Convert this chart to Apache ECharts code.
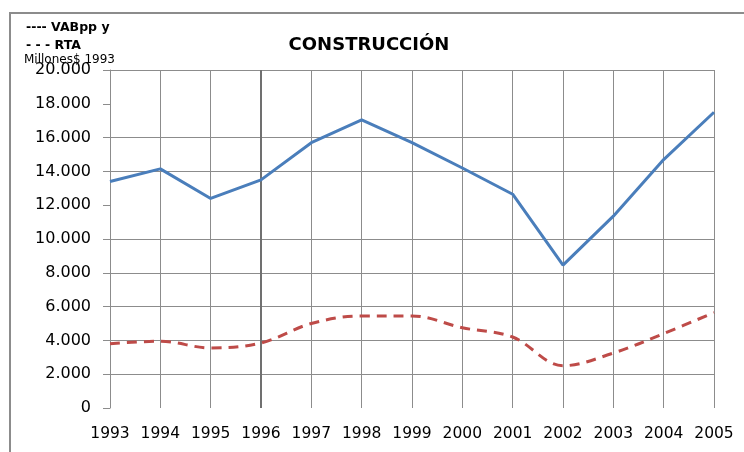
<!DOCTYPE html>
<html>
<head>
<meta charset="utf-8">
<script src="https://cdn.jsdelivr.net/npm/echarts@6/dist/echarts.min.js"></script>
<style>
  html, body { margin: 0; padding: 0; background: #fff; }
  #chart { width: 744px; height: 452px; }
</style>
</head>
<body>
<div id="chart"></div>
<script>
// años
const years = ['1993', '1994', '1995', '1996', '1997', '1998', '1999', '2000', '2001', '2002', '2003', '2004', '2005']
// VABpp y (millones $ 1993)
const vabValues = [13400, 14150, 12400, 13500, 15700, 17050, 15700, 14200, 12650, 8450, 11350, 14700, 17500]
// RTA
const rtaValues = [3800, 3950, 3550, 3850, 5000, 5450, 5450, 4750, 4200, 2500, 3250, 4400, 5650]
// líneas horizontales de la cuadrícula que se ven en el original
const gridLevels = [2000, 4000, 6000, 8000, 10000, 14000, 16000, 20000]

const gridGray = '#8c8c8c'
const fmt = v => v === 0 ? '0' : String(v).replace(/\B(?=(\d{3})+(?!\d))/g, '.')

const chart = echarts.init(document.getElementById('chart'))
chart.setOption({
  animation: false,
  grid: { left: 110, right: 30, top: 70, bottom: 44 },
  graphic: [
    // marco exterior
    { type: 'polyline', shape: { points: [[10, 452], [10, 13], [744, 13]] },
      style: { stroke: '#8c8c8c', lineWidth: 2, fill: null } },
    { type: 'text', left: 26, top: 21,
      style: { text: '---- VABpp y', font: 'bold 12.5px "DejaVu Sans"', fill: '#000' } },
    { type: 'text', left: 26, top: 39,
      style: { text: '- - - RTA', font: 'bold 12.5px "DejaVu Sans"', fill: '#000' } },
    { type: 'text', left: 24, top: 54,
      style: { text: 'Millones$ 1993', font: '12px "DejaVu Sans"', fill: '#000' } }
  ],
  title: {
    text: 'CONSTRUCCIÓN',
    left: 364, top: 31, textAlign: 'center',
    textStyle: { fontFamily: 'DejaVu Sans', fontWeight: 'bold', fontSize: 18, color: '#000' }
  },
  xAxis: {
    type: 'category',
    data: years,
    boundaryGap: false,
    axisLine: { show: false },
    axisTick: { show: false },
    axisLabel: { interval: 0, hideOverlap: false, fontFamily: 'DejaVu Sans', fontSize: 15.5, color: '#000', margin: 18 },
    splitLine: { show: true, lineStyle: { color: gridGray, width: 1 } }
  },
  yAxis: {
    type: 'value',
    min: 0, max: 20000, interval: 2000,
    axisLine: { show: true, lineStyle: { color: gridGray } },
    axisTick: { show: true, length: 7, lineStyle: { color: gridGray } },
    axisLabel: { fontFamily: 'DejaVu Sans', fontSize: 16, color: '#000', margin: 19, formatter: fmt },
    splitLine: { show: false }
  },
  series: [
    {
      name: 'VABpp y',
      type: 'line',
      data: vabValues,
      symbol: 'none',
      lineStyle: { color: '#4a7ebb', width: 3 },
      z: 3,
      markLine: {
        silent: true,
        symbol: 'none',
        label: { show: false },
        z: 1,
        data: gridLevels.map(v => ({ yAxis: v, lineStyle: { color: gridGray, width: 1, type: 'solid' } }))
          .concat([{ xAxis: '1996', lineStyle: { color: '#707070', width: 2, type: 'solid' } }])
      }
    },
    {
      name: 'RTA',
      type: 'line',
      data: rtaValues,
      symbol: 'none',
      smooth: 0.35,
      z: 3,
      lineStyle: { color: '#be4b48', width: 3, type: [10, 7] }
    }
  ]
})
</script>
</body>
</html>
